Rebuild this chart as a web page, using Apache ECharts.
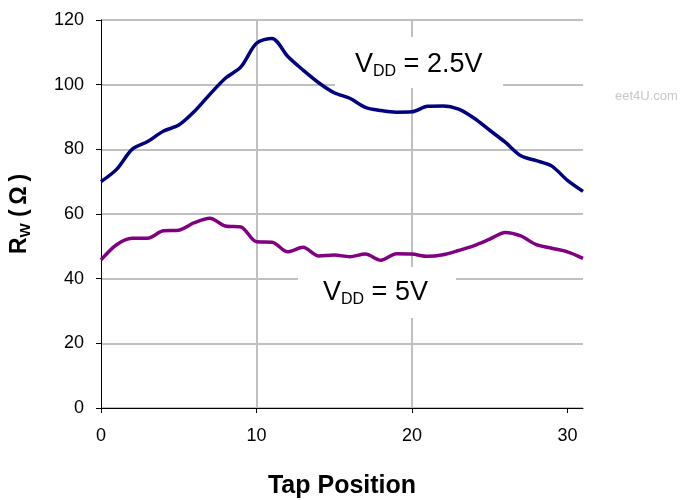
<!DOCTYPE html>
<html>
<head>
<meta charset="utf-8">
<script src="https://cdn.jsdelivr.net/npm/echarts@6/dist/echarts.min.js"></script>
<style>
	html, body { margin: 0; padding: 0; background: #fff; }
	#chart { width: 680px; height: 500px; }
</style>
</head>
<body>
<div id="chart"></div>
<script>
var taps = [0, 1, 2, 3, 4, 5, 6, 7, 8, 9, 10, 11, 12, 13, 14, 15,
	16, 17, 18, 19, 20, 21, 22, 23, 24, 25, 26, 27, 28, 29, 30, 31];

// Rw at VDD = 2.5V
var rw_25 = [70, 73.8, 80, 82.4, 85.6, 87.5, 91.7, 97, 102, 105.5, 112.8, 114.3,
	108.8, 104.5, 100.6, 97.5, 95.8, 93, 92, 91.5, 91.6, 93.3, 93.4, 92.4,
	89.6, 85.9, 82.2, 78, 76.5, 74.8, 70.4, 67];

// Rw at VDD = 5V
var rw_5 = [45.8, 50.5, 52.5, 52.5, 54.8, 55, 57.3, 58.7, 56.3, 56, 51.4, 51.3,
	48.3, 49.7, 47, 47.3, 46.8, 47.6, 45.7, 47.7, 47.6, 46.9, 47.4, 48.7,
	50.2, 52.2, 54.3, 53.2, 50.5, 49.4, 48.3, 46.3];

var xticks = [0, 10, 20, 30];

function pairs(xs, ys)
{
	var out = [];
	for (var i = 0; i < xs.length; i++)
	{
		out.push([xs[i], ys[i]]);
	}
	return out;
}

var font = "'Liberation Sans', Arial, sans-serif",
	gridcolor = "#c0c0c0";

var chart = echarts.init(document.getElementById("chart"), null, {renderer: "canvas"});

var labelrich = {
	v: { fontFamily: font, fontSize: 27, color: "#000", lineHeight: 30 },
	s: { fontFamily: font, fontSize: 16, color: "#000", lineHeight: 14, verticalAlign: "bottom" }
};

chart.setOption({
	animation: false,
	backgroundColor: "#fff",
	grid: {
		left: 101,
		right: 97,
		top: 20,
		bottom: 92,
		containLabel: false,
		outerBoundsMode: "none"
	},
	xAxis: {
		type: "value",
		min: 0,
		max: 31,
		interval: 10,
		name: "Tap Position",
		nameLocation: "middle",
		nameGap: 66,
		nameTextStyle: { fontFamily: font, fontSize: 25, fontWeight: "bold", color: "#000" },
		axisLine: { show: true, onZero: false, lineStyle: { color: "#000", width: 1 } },
		axisTick: { show: true, length: 5, customValues: xticks, lineStyle: { color: "#000" } },
		axisLabel: { customValues: xticks, margin: 19, fontFamily: font, fontSize: 18, color: "#000" },
		splitLine: { show: true, showMinLine: false, showMaxLine: false, lineStyle: { color: gridcolor, width: 2 } }
	},
	yAxis: {
		type: "value",
		min: 0,
		max: 120,
		interval: 20,
		name: "{r|R}{w|W}{n| (\u2009Ω\u2009)}",
		nameLocation: "middle",
		nameRotate: 90,
		nameGap: 68,
		nameTextStyle: {
			rich: {
				r: { fontFamily: font, fontSize: 23, fontWeight: "bold", color: "#000", lineHeight: 26 },
				w: { fontFamily: font, fontSize: 15, fontWeight: "bold", color: "#000", lineHeight: 15, verticalAlign: "bottom" },
				n: { fontFamily: font, fontSize: 23, fontWeight: "bold", color: "#000", lineHeight: 26 }
			}
		},
		axisLine: { show: true, lineStyle: { color: "#000", width: 1 } },
		axisTick: { show: true, length: 5, lineStyle: { color: "#000" } },
		axisLabel: { margin: 17, fontFamily: font, fontSize: 18, color: "#000" },
		splitLine: { show: true, lineStyle: { color: gridcolor, width: 2 } }
	},
	graphic: [
		// white boxes under the curve labels hide the gridlines
		{ type: "rect", z: 1, shape: { x: 335, y: 37, width: 168, height: 51 }, style: { fill: "#fff" } },
		{ type: "rect", z: 1, shape: { x: 298, y: 267, width: 158, height: 51 }, style: { fill: "#fff" } },
		{
			type: "text", z: 3, x: 355, y: 50,
			style: { text: "{v|V}{s|DD}{v| = 2.5V}", rich: labelrich, align: "left", verticalAlign: "top" }
		},
		{
			type: "text", z: 3, x: 323, y: 278,
			style: { text: "{v|V}{s|DD}{v| = 5V}", rich: labelrich, align: "left", verticalAlign: "top" }
		},
		{
			type: "text", z: 3, x: 615, y: 90,
			style: { text: "eet4U.com", fontFamily: font, fontSize: 13, fill: "#c8c8c8" }
		}
	],
	series: [
		{
			name: "VDD = 2.5V",
			type: "line",
			data: pairs(taps, rw_25),
			showSymbol: false,
			smooth: 0.3,
			z: 4,
			lineStyle: { color: "#000080", width: 3.5 }
		},
		{
			name: "VDD = 5V",
			type: "line",
			data: pairs(taps, rw_5),
			showSymbol: false,
			smooth: 0.3,
			z: 4,
			lineStyle: { color: "#800080", width: 3.5 }
		}
	]
});
</script>
</body>
</html>
